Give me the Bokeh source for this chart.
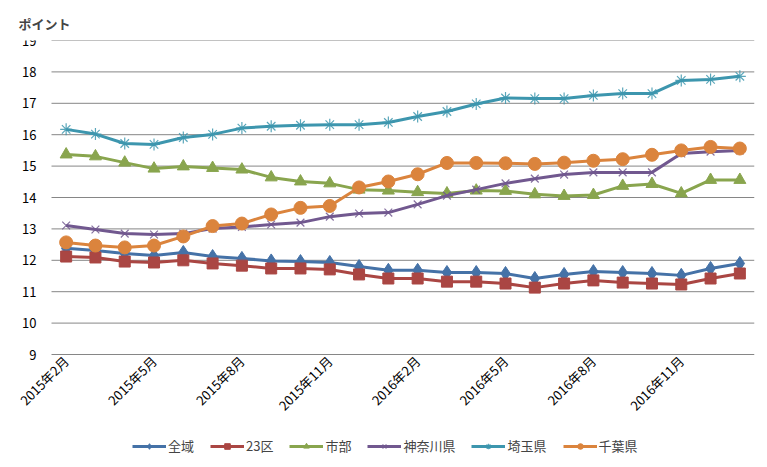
import math
from bokeh.plotting import figure
from bokeh.models import Legend, LegendItem, FixedTicker, Range1d
from bokeh.embed import file_html
from bokeh.resources import INLINE

months = ["2015年2月", "2015年3月", "2015年4月", "2015年5月", "2015年6月", "2015年7月",
          "2015年8月", "2015年9月", "2015年10月", "2015年11月", "2015年12月", "2016年1月",
          "2016年2月", "2016年3月", "2016年4月", "2016年5月", "2016年6月", "2016年7月",
          "2016年8月", "2016年9月", "2016年10月", "2016年11月", "2016年12月", "2017年1月"]

zeniki = [12.38, 12.31, 12.22, 12.15, 12.25, 12.12, 12.06, 11.98, 11.96, 11.93, 11.80, 11.68,
          11.68, 11.61, 11.61, 11.58, 11.42, 11.55, 11.64, 11.61, 11.58, 11.52, 11.74, 11.90]
ku23 = [12.12, 12.09, 11.96, 11.93, 12.00, 11.90, 11.83, 11.74, 11.74, 11.71, 11.55, 11.42,
        11.42, 11.32, 11.32, 11.26, 11.13, 11.26, 11.36, 11.29, 11.26, 11.23, 11.42, 11.58]
shibu = [15.37, 15.31, 15.11, 14.92, 14.99, 14.94, 14.89, 14.64, 14.51, 14.45, 14.25, 14.22,
         14.17, 14.13, 14.22, 14.21, 14.10, 14.05, 14.08, 14.37, 14.43, 14.13, 14.56, 14.56]
kanagawa = [13.11, 12.98, 12.85, 12.82, 12.85, 13.01, 13.06, 13.14, 13.20, 13.39, 13.49, 13.52,
            13.78, 14.06, 14.25, 14.45, 14.60, 14.73, 14.80, 14.80, 14.80, 15.40, 15.46, 15.50]
saitama = [16.17, 16.02, 15.72, 15.69, 15.91, 16.01, 16.21, 16.27, 16.30, 16.32, 16.32, 16.39,
           16.58, 16.74, 16.98, 17.17, 17.15, 17.15, 17.25, 17.31, 17.31, 17.73, 17.76, 17.86]
chiba = [12.57, 12.47, 12.41, 12.47, 12.76, 13.09, 13.17, 13.46, 13.67, 13.73, 14.32, 14.51,
         14.74, 15.10, 15.10, 15.09, 15.07, 15.11, 15.17, 15.22, 15.36, 15.50, 15.61, 15.56]

series_names = ["全域", "23区", "市部", "神奈川県", "埼玉県", "千葉県"]
y_ticks = list(range(9, 20))
x_label_idx = [0, 3, 6, 9, 12, 15, 18, 21]

FONT = "Noto Sans CJK JP"

# frame extends beyond the plot area so axis labels and legend can sit inside it
Y_MIN, Y_MAX = 9, 19
PX_PER_UNIT = 31.4
EXTRA_BOTTOM = 108
N = len(months)
PLOT_W = 703
PX_PER_CAT = PLOT_W / N
EXTRA_LEFT = 41
X_LO, X_HI = -0.5, N - 0.5

frame_h = int(round((Y_MAX - Y_MIN) * PX_PER_UNIT)) + EXTRA_BOTTOM

p = figure(frame_width=PLOT_W + EXTRA_LEFT, frame_height=frame_h,
           output_backend="svg", toolbar_location=None,
           x_range=Range1d(X_LO - EXTRA_LEFT / PX_PER_CAT, X_HI),
           y_range=Range1d(Y_MIN - EXTRA_BOTTOM / PX_PER_UNIT, Y_MAX),
           min_border_left=10, min_border_right=13, min_border_top=40, min_border_bottom=0)
p.outline_line_color = None
p.background_fill_color = "white"
p.border_fill_color = "white"

p.title.text = "ポイント"
p.title.text_font = FONT
p.title.text_font_size = "13px"
p.title.text_font_style = "bold"
p.title.align = "left"
p.title.offset = 8
p.title.standoff = 15

# horizontal gridlines limited to the plot area
p.segment(x0=[X_LO] * len(y_ticks), y0=y_ticks, x1=[X_HI] * len(y_ticks), y1=y_ticks,
          line_color="#868686", line_width=1)

x = list(range(N))
specs = [
    (zeniki, "#4572A7", "diamond", 14, 0),
    (ku23, "#AA4643", "square", 11, 0),
    (shibu, "#89A54E", "triangle", 12, 0),
    (kanagawa, "#71588F", "x", 11, 1),
    (saitama, "#3D96AE", "asterisk", 12, 1),
    (chiba, "#DB843D", "circle", 13, 0),
]
items = []
for (vals, col, mk, sz, thin), name in zip(specs, series_names):
    r1 = p.line(x, vals, line_color=col, line_width=3)
    if thin:
        r2 = p.scatter(x, vals, marker=mk, size=sz, line_color=col, line_width=1.2, line_alpha=0.85)
    else:
        r2 = p.scatter(x, vals, marker=mk, size=sz, fill_color=col, line_color=col)
    items.append(LegendItem(label=name, renderers=[r1, r2]))

p.xgrid.visible = False
p.ygrid.visible = False

p.yaxis.fixed_location = X_LO
p.yaxis.ticker = FixedTicker(ticks=y_ticks)
p.yaxis.axis_line_color = None
p.yaxis.major_tick_line_color = None
p.yaxis.minor_tick_line_color = None
p.yaxis.major_tick_out = 0
p.yaxis.major_tick_in = 0
p.yaxis.major_label_text_font = FONT
p.yaxis.major_label_text_font_size = "13px"
p.yaxis.major_label_text_color = "#000000"
p.yaxis.major_label_standoff = 15

p.xaxis.fixed_location = Y_MIN
p.xaxis.ticker = FixedTicker(ticks=x_label_idx)
p.xaxis.major_label_overrides = {i: months[i] for i in x_label_idx}
p.xaxis.major_label_orientation = math.pi / 4
p.xaxis.axis_line_color = None
p.xaxis.major_tick_line_color = None
p.xaxis.minor_tick_line_color = None
p.xaxis.major_tick_out = 0
p.xaxis.major_tick_in = 0
p.xaxis.major_label_text_font = FONT
p.xaxis.major_label_text_font_size = "13px"
p.xaxis.major_label_text_color = "#000000"
p.xaxis.major_label_standoff = 4

legend = Legend(items=items, orientation="horizontal", location=(122, 7),
                label_text_font=FONT, label_text_font_size="13px",
                glyph_width=34, glyph_height=14, label_height=16, spacing=16, label_standoff=2,
                padding=0, margin=0, border_line_color=None, background_fill_alpha=0)
p.add_layout(legend, "center")

open("out.html", "w").write(file_html(p, INLINE))
